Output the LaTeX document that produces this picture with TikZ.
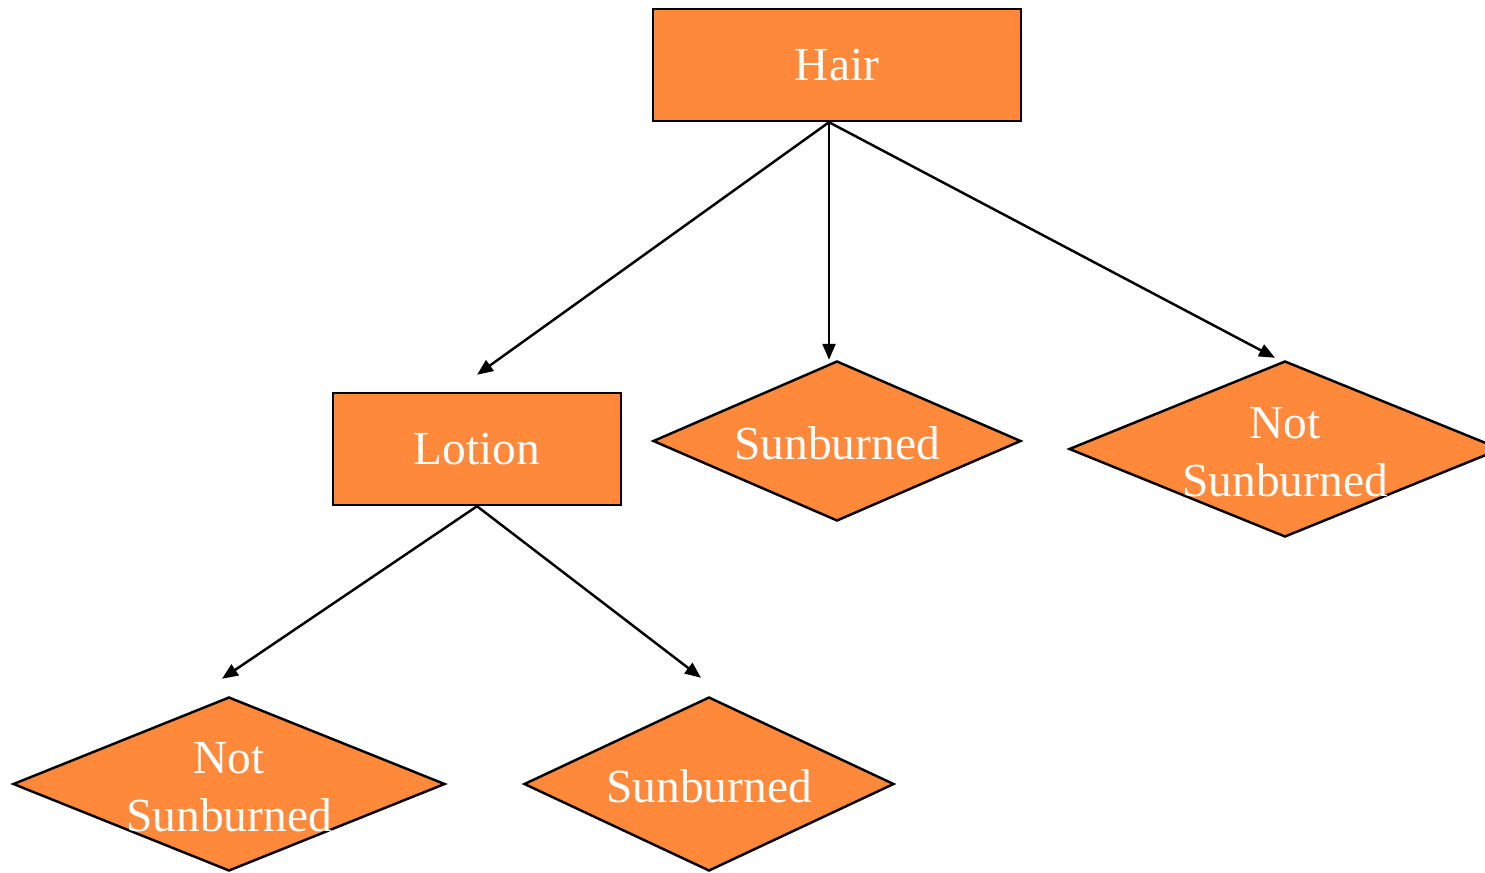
\documentclass[tikz,border=0pt]{standalone}
\usepackage{fontspec}
\setmainfont{Liberation Serif}
\usepackage{tikz}
\usetikzlibrary{shapes.geometric,arrows.meta}
\definecolor{treeorange}{RGB}{255,137,58}

\begin{document}
\begin{tikzpicture}[
    every node/.style={font=\fontsize{13.5}{16.5}\selectfont, text=white},
    box/.style={draw, line width=0.7pt, fill=treeorange, minimum height=1.12cm, inner sep=0pt},
    leaf/.style={draw, diamond, line width=0.7pt, fill=treeorange, inner sep=0pt},
    leaftext/.style={align=center, inner sep=0pt},
    branch/.style={line width=0.7pt, -{Triangle[length=0.16cm,width=0.13cm]}}
]
    \useasboundingbox (0,0) rectangle (14.85,-8.72);

    % Decision nodes
    \node[box, minimum width=3.68cm, text depth=-0.03cm] (hair) at (8.37,-0.65) {Hair};
    \node[box, minimum width=2.88cm, text depth=-0.03cm] (lotion) at (4.77,-4.49) {Lotion};

    % Leaves
    \node[leaf, minimum width=3.68cm, minimum height=1.60cm] (sun1) at (8.37,-4.41) {};
    \node[leaftext] (sun1text) at ([yshift=-0.02cm]sun1) {Sunburned};
    \node[leaf, minimum width=4.32cm, minimum height=1.76cm] (notsun1) at (12.85,-4.49) {};
    \node[leaftext] (notsun1text) at ([yshift=-0.03cm]notsun1) {Not\\Sunburned};
    \node[leaf, minimum width=4.32cm, minimum height=1.74cm] (notsun2) at (2.29,-7.84) {};
    \node[leaftext] (notsun2text) at ([yshift=-0.03cm]notsun2) {Not\\Sunburned};
    \node[leaf, minimum width=3.70cm, minimum height=1.74cm] (sun2) at (7.09,-7.84) {};
    \node[leaftext] (sun2text) at ([yshift=-0.02cm]sun2) {Sunburned};

    % Branches
    \draw[branch] ([xshift=-0.08cm]hair.south) -- ([yshift=0.17cm]lotion.north);
    \draw[branch] ([xshift=-0.08cm]hair.south) -- ([xshift=-0.08cm]sun1.north);
    \draw[branch] ([xshift=-0.08cm]hair.south) -- ([xshift=-0.1cm,yshift=0.02cm]notsun1.north);
    \draw[branch] (lotion.south) -- ([xshift=-0.07cm,yshift=0.17cm]notsun2.north);
    \draw[branch] (lotion.south) -- ([xshift=-0.08cm,yshift=0.18cm]sun2.north);
\end{tikzpicture}
\end{document}
